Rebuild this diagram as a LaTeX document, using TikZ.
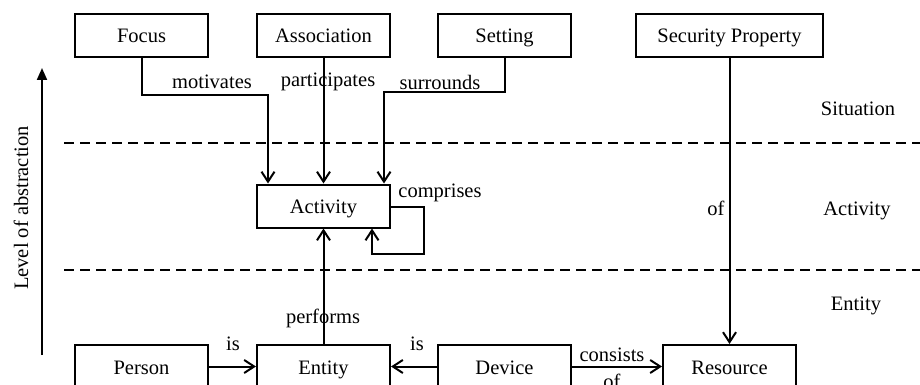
\documentclass[tikz,border=0pt]{standalone}
\usepackage{fontspec}
\setmainfont{Liberation Serif}
\usetikzlibrary{arrows.meta}
\begin{document}
\begin{tikzpicture}[x=0.5pt,y=-0.5pt,
  font=\fontsize{10.25}{12}\selectfont,
  box/.style={draw,line width=1pt,minimum width=66.5pt,minimum height=21.5pt,inner sep=0pt,
    text height=8pt,text depth=0.5pt},
  wide/.style={box,minimum width=93.5pt},
  link/.style={line width=1pt},
  arr/.style={link,-{Straight Barb[length=5pt,width=6.5pt,line width=1pt]}},
  layer/.style={line width=1pt,dash pattern=on 5pt off 3pt},
  lbl/.style={inner sep=0pt}]
\useasboundingbox (0,0) rectangle (920,385);
\clip (0,0) rectangle (920,385);

% situation layer
\node[box] (focus) at (141.5,35.5) {Focus};
\node[box] (assoc) at (323.5,35.5) {Association};
\node[box] (setting) at (504.5,35.5) {Setting};
\node[wide] (secprop) at (729.5,35.5) {Security Property};

% activity layer
\node[box] (activity) at (323.5,206) {Activity};

% entity layer
\node[box] (person) at (141.5,366.5) {Person};
\node[box] (entity) at (323.5,366.5) {Entity};
\node[box] (device) at (504.5,366.5) {Device};
\node[box] (resource) at (729.5,366.5) {Resource};

% layer separators
\coordinate (sepAl) at (64,143);
\coordinate (sepAr) at (920,143);
\coordinate (sepBl) at (64,270);
\coordinate (sepBr) at (920,270);
\draw[layer] (sepAl) -- (sepAr);
\draw[layer] (sepBl) -- (sepBr);

% bends of the routed connectors
\coordinate (fbend) at (268,95);
\coordinate (sbend) at (384,92);
\coordinate (loopA) at (424,207);
\coordinate (loopB) at (424,254);
\coordinate (loopC) at (372,254);

\draw[arr] (focus.south) |- (fbend) -- (fbend |- activity.north);
\draw[arr] (assoc.south) -- (activity.north);
\draw[arr] (setting.south) |- (sbend) -- (sbend |- activity.north);
\draw[arr] (activity.east |- loopA) -- (loopA) -- (loopB) -- (loopC) -- (loopC |- activity.south);
\draw[arr] (entity.north) -- (activity.south);
\draw[arr] (secprop.south) -- (resource.north);
\draw[arr] (person.east) -- (entity.west);
\draw[arr] (device.west) -- (entity.east);
\draw[arr] (device.east) -- (resource.west);

% connector labels
\node[lbl] (tmot) at (212,82) {motivates};
\node[lbl] (tpart) at (328,82) {participates};
\node[lbl] (tsur) at (440,82) {surrounds};
\node[lbl] (tcomp) at (440,193) {comprises};
\node[lbl] (tof) at (716,208) {of};
\node[lbl] (tperf) at (323,318) {performs};
\node[lbl] (tis1) at (233,344) {is};
\node[lbl] (tis2) at (417,344) {is};
\node[lbl] (tcons) at (612,355) {consists};
\node[lbl] (tcof) at (612,381) {of};

% layer names
\node[lbl] (lsit) at (858,109) {Situation};
\node[lbl] (lact) at (857,211) {Activity};
\node[lbl] (lent) at (856,306) {Entity};

% abstraction axis
\coordinate (axlo) at (42,355);
\coordinate (axhi) at (42,68);
\draw[link,-{Triangle[length=6pt,width=5pt]}] (axlo) -- (axhi);
\node[lbl,rotate=90] (axis) at (21,208) {Level of abstraction};
\end{tikzpicture}
\end{document}
